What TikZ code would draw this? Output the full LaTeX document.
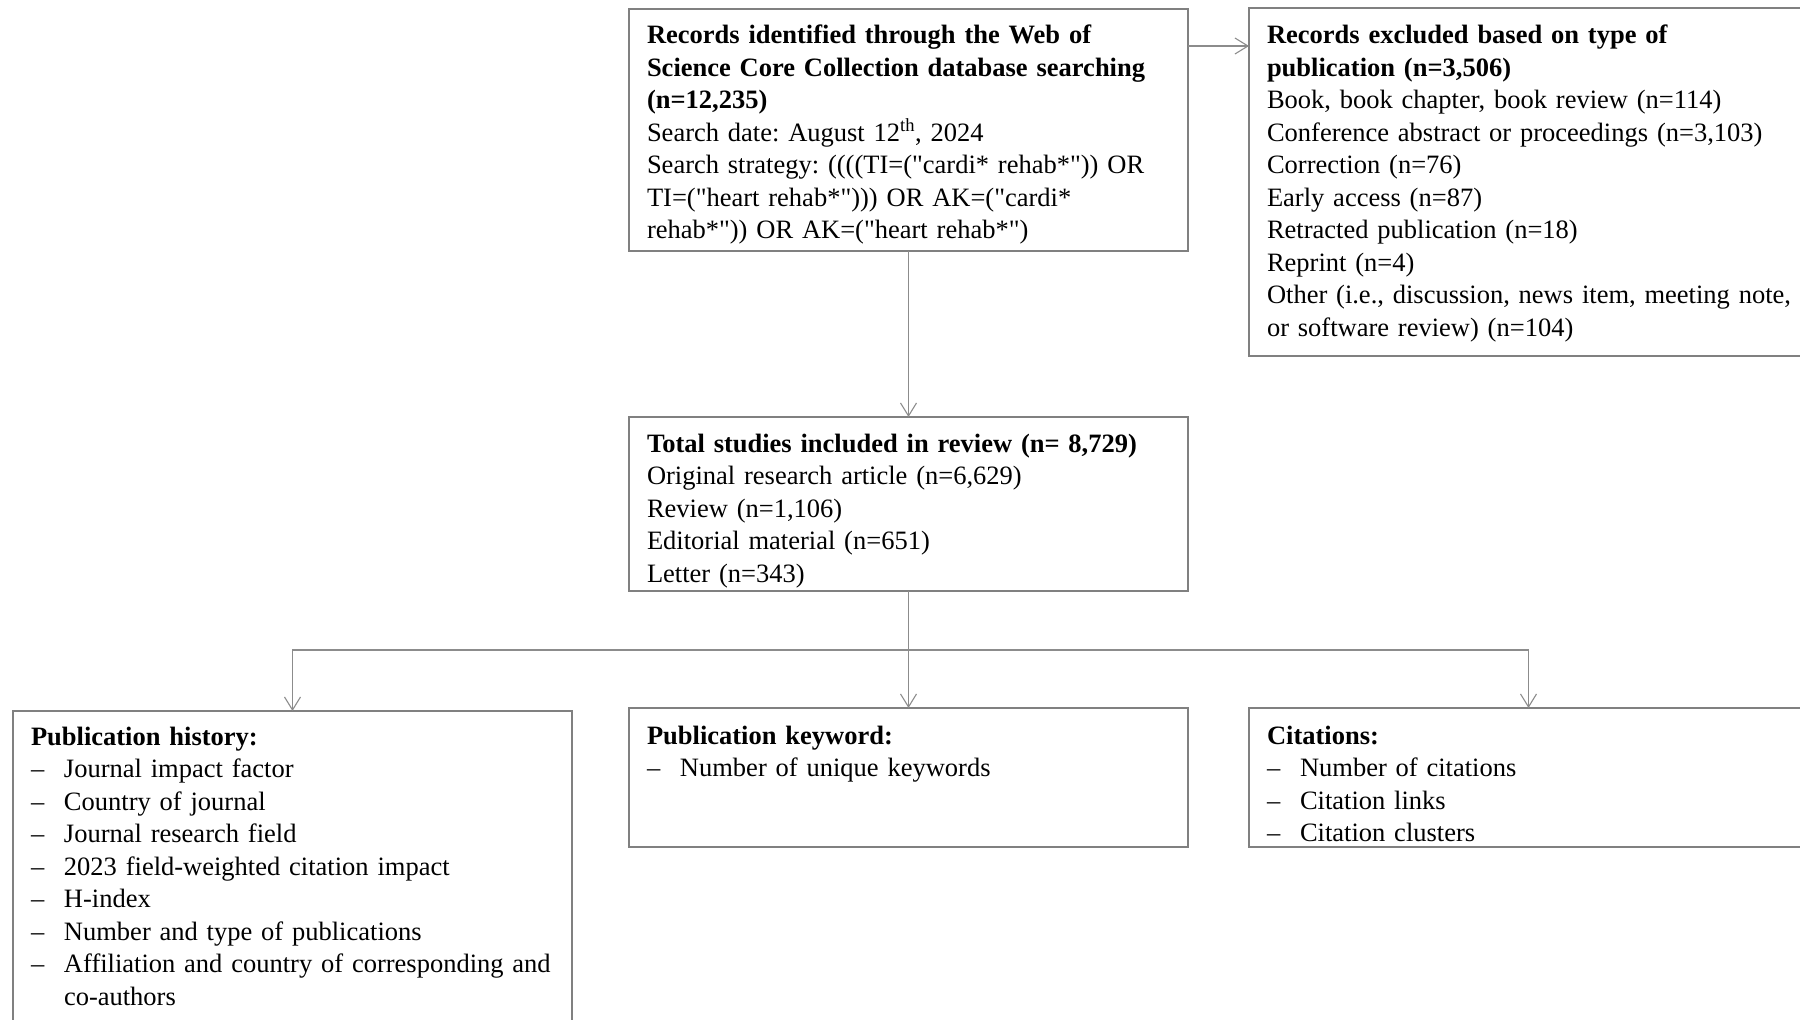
\documentclass[tikz,border=0pt]{standalone}
\usepackage{fontspec}
\setmainfont{Liberation Serif}[Ligatures=TeXOff]
\usetikzlibrary{arrows.meta}
\definecolor{boxline}{RGB}{128,128,128}
\definecolor{linkline}{RGB}{140,140,140}
\newcommand{\itm}[1]{\makebox[33pt][l]{\textendash}#1}
\newcommand{\dq}{\symbol{34}}
\begin{document}
\frenchspacing
\begin{tikzpicture}[x=1pt,y=-1pt,
  boxnode/.style={draw=boxline,line width=1.2pt,rectangle,inner sep=0pt,outer sep=0pt,
    anchor=north west,minimum width=559pt},
  txt/.style={anchor=base west,inner sep=0pt,outer sep=0pt,text width=600pt,align=left,
    font=\fontsize{26.5}{32.5}\selectfont\frenchspacing},
  arr/.style={draw=linkline,line width=1.1pt,-{Straight Barb[length=13pt,width=16pt,line width=1.1pt]}},
  link/.style={draw=linkline,line width=1.1pt}]
\useasboundingbox (0,0) rectangle (1800,1020);
\clip (0,0) rectangle (1800,1020);

% boxes
\node[boxnode,minimum height=242pt] (search) at (629,9) {};
\node[boxnode,minimum height=348pt] (excl) at (1249,8) {};
\node[boxnode,minimum height=174pt] (incl) at (629,417) {};
\node[boxnode,minimum height=330pt] (hist) at (13,711) {};
\node[boxnode,minimum height=139pt] (kw) at (629,708) {};
\node[boxnode,minimum height=139pt] (cit) at (1249,708) {};

% texts
\node[txt] (searchtxt) at (647,43.5) {\textbf{Records identified through the Web of}\\
\textbf{Science Core Collection database searching}\\
\textbf{(n=12,235)}\\
Search date: August 12\textsuperscript{th}, 2024\\
Search strategy: ((((TI=(\dq cardi* rehab*\dq)) OR\\
TI=(\dq heart rehab*\dq))) OR AK=(\dq cardi*\\
rehab*\dq)) OR AK=(\dq heart rehab*\dq)};

\node[txt] (excltxt) at (1267,43.5) {\textbf{Records excluded based on type of}\\
\textbf{publication (n=3,506)}\\
Book, book chapter, book review (n=114)\\
Conference abstract or proceedings (n=3,103)\\
Correction (n=76)\\
Early access (n=87)\\
Retracted publication (n=18)\\
Reprint (n=4)\\
Other (i.e., discussion, news item, meeting note,\\
or software review) (n=104)};

\node[txt] (incltxt) at (647,452) {\textbf{Total studies included in review (n= 8,729)}\\
Original research article (n=6,629)\\
Review (n=1,106)\\
Editorial material (n=651)\\
Letter (n=343)};

\node[txt] (histtxt) at (31,745) {\textbf{Publication history:}\\
\itm{Journal impact factor}\\
\itm{Country of journal}\\
\itm{Journal research field}\\
\itm{2023 field-weighted citation impact}\\
\itm{H-index}\\
\itm{Number and type of publications}\\
\itm{Affiliation and country of corresponding and}\\
\hspace*{33pt}co-authors};

\node[txt] (kwtxt) at (647,744) {\textbf{Publication keyword:}\\
\itm{Number of unique keywords}};

\node[txt] (cittxt) at (1267,744) {\textbf{Citations:}\\
\itm{Number of citations}\\
\itm{Citation links}\\
\itm{Citation clusters}};

% connectors
\draw[arr] ([yshift=-37pt]search.north east) -- ([yshift=-38pt]excl.north west);
\draw[arr] (search.south) -- (incl.north);
\coordinate (split) at (908.5,650);
\draw[arr] (incl.south) -- (kw.north);
\draw[arr] (split) -| (hist.north);
\draw[arr] (split) -| (cit.north);
\end{tikzpicture}
\end{document}
